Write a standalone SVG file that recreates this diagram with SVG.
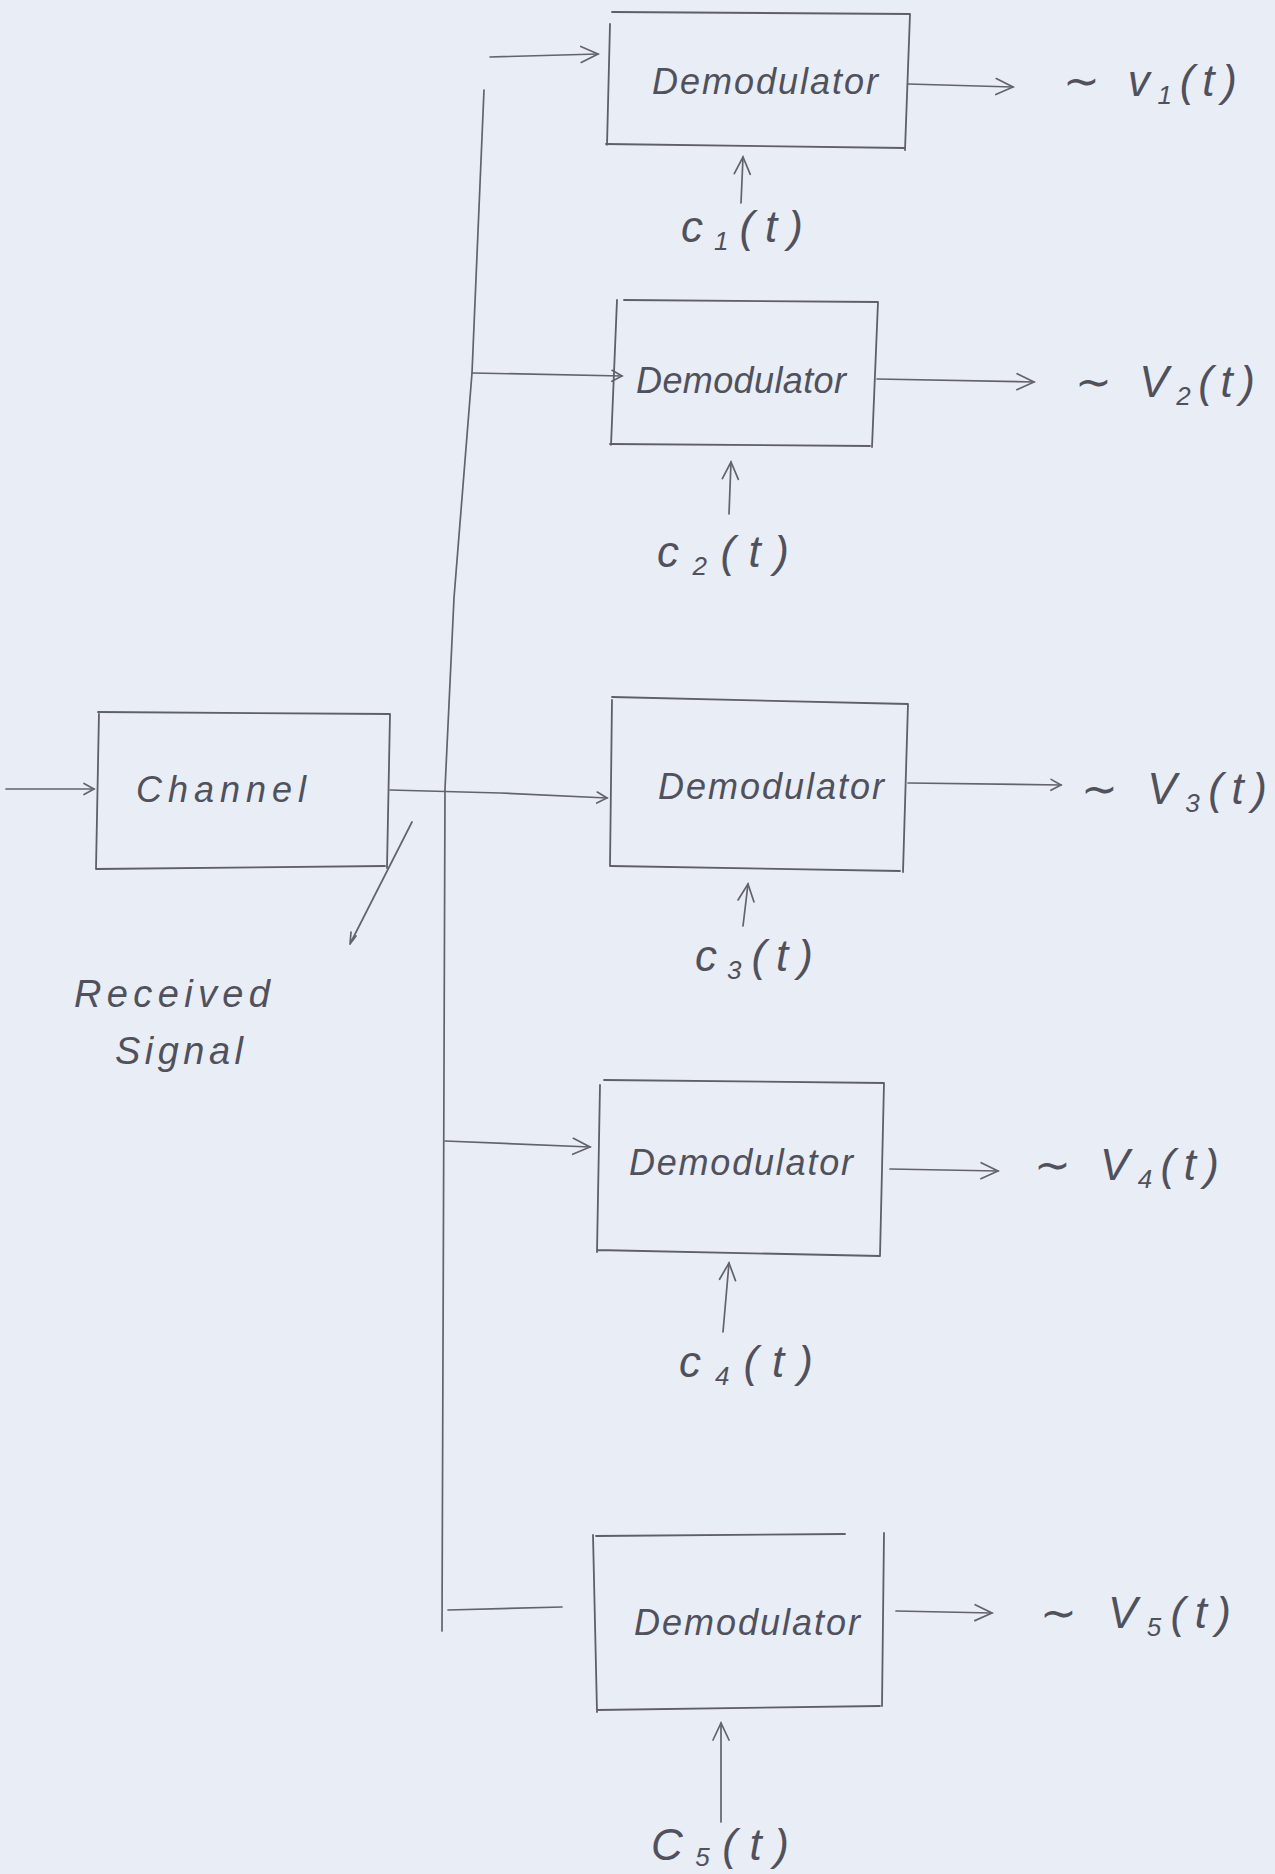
<svg xmlns="http://www.w3.org/2000/svg" width="1275" height="1874" viewBox="0 0 1275 1874">
<style>
.ln{fill:none;stroke:#62636d;stroke-width:1.7;stroke-linecap:round;stroke-linejoin:round}
.box{fill:none;stroke:#5e5f69;stroke-width:1.8;stroke-linecap:round}
.t{font-family:"Liberation Sans","DejaVu Sans",sans-serif;font-style:italic;fill:#50515c;font-size:36px}
.lab{font-family:"Liberation Sans","DejaVu Sans",sans-serif;font-style:italic;fill:#50515c;font-size:38px}
.sig{font-family:"Liberation Sans","DejaVu Sans",sans-serif;font-style:italic;fill:#50515c;font-size:44px}
.sub{font-size:26px}
</style>
<defs>
<marker id="ah" viewBox="0 0 14 14" refX="12" refY="7" markerWidth="14" markerHeight="14" markerUnits="userSpaceOnUse" orient="auto">
<path d="M2,1.5 L12,7 L2,12.5" fill="none" stroke="#62636d" stroke-width="1.7" stroke-linecap="round"/>
</marker>
<marker id="ahb" viewBox="0 0 22 22" refX="20" refY="11" markerWidth="22" markerHeight="22" markerUnits="userSpaceOnUse" orient="auto">
<path d="M3,3 L20,11 L3,19" fill="none" stroke="#62636d" stroke-width="1.7" stroke-linecap="round"/>
</marker>
</defs>
<rect width="1275" height="1874" fill="#e9edf5"/>

<g id="connectors">
<path class="ln" d="M484,90 L472,373 L454,598 L445,789 L442,1631"/>
<path class="ln" d="M6,789 L94,789" marker-end="url(#ah)"/>
<path class="ln" d="M390,790 L500,793 L607,798" marker-end="url(#ah)"/>
<path class="ln" d="M490,57 L598,54" marker-end="url(#ahb)"/>
<path class="ln" d="M908,84 L1013,87" marker-end="url(#ahb)"/>
<path class="ln" d="M741,203 L743,157" marker-end="url(#ahb)"/>
<path class="ln" d="M472,373 L622,376" marker-end="url(#ah)"/>
<path class="ln" d="M877,379 L1034,382" marker-end="url(#ahb)"/>
<path class="ln" d="M729,514 L731,462" marker-end="url(#ahb)"/>
<path class="ln" d="M908,783 L1061,785" marker-end="url(#ah)"/>
<path class="ln" d="M743,926 L748,884" marker-end="url(#ahb)"/>
<path class="ln" d="M445,1141 L590,1147" marker-end="url(#ahb)"/>
<path class="ln" d="M890,1169 L998,1171" marker-end="url(#ahb)"/>
<path class="ln" d="M723,1332 L729,1263" marker-end="url(#ahb)"/>
<path class="ln" d="M448,1610 L562,1607"/>
<path class="ln" d="M896,1611 L992,1613" marker-end="url(#ahb)"/>
<path class="ln" d="M721,1822 L721,1723" marker-end="url(#ahb)"/>
<path class="ln" d="M412,822 L350,944 M350,944 L351,932 M350,944 L356,936"/>
</g>

<g id="channel">
<path class="box" d="M98,712 L390,714 M390,714 L387,868 M385,866 L96,869 M96,869 L99,712"/>
<text class="t" x="221" y="802" text-anchor="middle" textLength="170" lengthAdjust="spacing">Channel</text>
</g>

<g id="received-signal">
<text class="lab" x="172" y="1007" text-anchor="middle" textLength="196" lengthAdjust="spacing">Received</text>
<text class="lab" x="179" y="1064" text-anchor="middle" textLength="128" lengthAdjust="spacing">Signal</text>
</g>

<g id="demod1">
<path class="box" d="M612,12 L910,14 M910,14 L905,150 M905,148 L606,144 M607,145 L610,24"/>
<text class="t" x="765" y="94" text-anchor="middle" textLength="226" lengthAdjust="spacing">Demodulator</text>
<text class="sig" x="1063" y="96" textLength="174" lengthAdjust="spacing">∼ v<tspan class="sub" dy="8">1</tspan><tspan dy="-8">(t)</tspan></text>
<text class="sig" x="681" y="242" textLength="122" lengthAdjust="spacing">c<tspan class="sub" dy="8">1</tspan><tspan dy="-8">(t)</tspan></text>
</g>

<g id="demod2">
<path class="box" d="M624,300 L878,302 M878,302 L872,447 M870,446 L610,444 M611,445 L617,300"/>
<text class="t" x="741" y="393" text-anchor="middle" textLength="210" lengthAdjust="spacing">Demodulator</text>
<text class="sig" x="1075" y="397" textLength="180" lengthAdjust="spacing">∼ V<tspan class="sub" dy="8">2</tspan><tspan dy="-8">(t)</tspan></text>
<text class="sig" x="657" y="567" textLength="132" lengthAdjust="spacing">c<tspan class="sub" dy="8">2</tspan><tspan dy="-8">(t)</tspan></text>
</g>

<g id="demod3">
<path class="box" d="M612,697 L908,704 M908,704 L903,872 M900,871 L611,866 M610,866 L612,700"/>
<text class="t" x="771" y="799" text-anchor="middle" textLength="226" lengthAdjust="spacing">Demodulator</text>
<text class="sig" x="1081" y="804" textLength="186" lengthAdjust="spacing">∼ V<tspan class="sub" dy="8">3</tspan><tspan dy="-8">(t)</tspan></text>
<text class="sig" x="695" y="971" textLength="118" lengthAdjust="spacing">c<tspan class="sub" dy="8">3</tspan><tspan dy="-8">(t)</tspan></text>
</g>

<g id="demod4">
<path class="box" d="M604,1080 L884,1083 M884,1083 L880,1256 M880,1256 L597,1250 M597,1252 L600,1085"/>
<text class="t" x="741" y="1175" text-anchor="middle" textLength="224" lengthAdjust="spacing">Demodulator</text>
<text class="sig" x="1034" y="1180" textLength="185" lengthAdjust="spacing">∼ V<tspan class="sub" dy="8">4</tspan><tspan dy="-8">(t)</tspan></text>
<text class="sig" x="679" y="1377" textLength="134" lengthAdjust="spacing">c<tspan class="sub" dy="8">4</tspan><tspan dy="-8">(t)</tspan></text>
</g>

<g id="demod5">
<path class="box" d="M596,1536 L845,1534 M884,1533 L882,1706 M880,1706 L597,1710 M597,1712 L593,1535"/>
<text class="t" x="747" y="1635" text-anchor="middle" textLength="226" lengthAdjust="spacing">Demodulator</text>
<text class="sig" x="1040" y="1628" textLength="191" lengthAdjust="spacing">∼ V<tspan class="sub" dy="8">5</tspan><tspan dy="-8">(t)</tspan></text>
<text class="sig" x="651" y="1860" textLength="138" lengthAdjust="spacing">C<tspan class="sub" dy="6">5</tspan><tspan dy="-6">(t)</tspan></text>
</g>
</svg>
